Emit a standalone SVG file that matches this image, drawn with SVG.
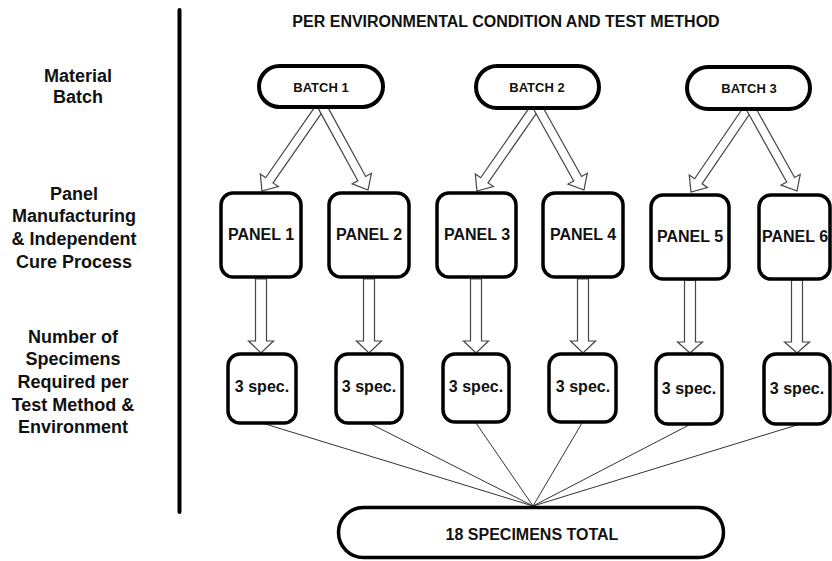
<svg xmlns="http://www.w3.org/2000/svg" width="832" height="561" viewBox="0 0 832 561">
<style>
text{font-family:"Liberation Sans",Arial,sans-serif;font-weight:bold;fill:#111;text-anchor:middle}
.lbl{font-size:18px}
.title{font-size:16px}
.bt{font-size:13px}
.pt{font-size:16px}
.st{font-size:16px}
.tt{font-size:16px}
.pill{fill:#fff;stroke:#000;stroke-width:4}
.box{fill:#fff;stroke:#000;stroke-width:3.5}
.arr{fill:#fff;stroke:#444;stroke-width:1.2;stroke-linejoin:miter}
.ln{stroke:#333;stroke-width:1;fill:none}
</style>
<rect width="832" height="561" fill="#fff"/>
<g id="axis"><line x1="179.5" y1="10" x2="179.5" y2="512" stroke="#000" stroke-width="4" stroke-linecap="round"/></g>
<g id="title"><text class="title" x="506" y="27">PER ENVIRONMENTAL CONDITION AND TEST METHOD</text></g>
<g id="row-labels">
<text class="lbl" x="78" y="82">Material</text>
<text class="lbl" x="78" y="103">Batch</text>
<text class="lbl" x="74" y="200">Panel</text>
<text class="lbl" x="74" y="222">Manufacturing</text>
<text class="lbl" x="74" y="245">&amp; Independent</text>
<text class="lbl" x="74" y="268">Cure Process</text>
<text class="lbl" x="73" y="343">Number of</text>
<text class="lbl" x="73" y="365">Specimens</text>
<text class="lbl" x="73" y="388">Required per</text>
<text class="lbl" x="73" y="411">Test Method &amp;</text>
<text class="lbl" x="73" y="433">Environment</text>
</g>
<g id="connectors">
<polygon class="arr" transform="translate(321,106) rotate(124.8)" points="0,-4.5 90.5,-4.5 90.5,-11 103.5,0 90.5,11 90.5,4.5 0,4.5"/>
<polygon class="arr" transform="translate(322,106) rotate(61.3)" points="0,-4.5 82.8,-4.5 82.8,-11 95.8,0 82.8,11 82.8,4.5 0,4.5"/>
<polygon class="arr" transform="translate(536,106) rotate(124.8)" points="0,-4.5 90.5,-4.5 90.5,-11 103.5,0 90.5,11 90.5,4.5 0,4.5"/>
<polygon class="arr" transform="translate(537,106) rotate(60.8)" points="0,-4.5 83.3,-4.5 83.3,-11 96.3,0 83.3,11 83.3,4.5 0,4.5"/>
<polygon class="arr" transform="translate(749,107) rotate(124.3)" points="0,-4.5 89.9,-4.5 89.9,-11 102.9,0 89.9,11 89.9,4.5 0,4.5"/>
<polygon class="arr" transform="translate(750,107) rotate(60.8)" points="0,-4.5 83.3,-4.5 83.3,-11 96.3,0 83.3,11 83.3,4.5 0,4.5"/>
<polygon class="arr" transform="translate(261,279) rotate(90)" points="0,-5.5 62,-5.5 62,-12.5 74,0 62,12.5 62,5.5 0,5.5"/>
<polygon class="arr" transform="translate(369,279) rotate(90)" points="0,-5.5 62,-5.5 62,-12.5 74,0 62,12.5 62,5.5 0,5.5"/>
<polygon class="arr" transform="translate(476,279) rotate(90)" points="0,-5.5 62,-5.5 62,-12.5 74,0 62,12.5 62,5.5 0,5.5"/>
<polygon class="arr" transform="translate(583,279) rotate(90)" points="0,-5.5 62,-5.5 62,-12.5 74,0 62,12.5 62,5.5 0,5.5"/>
<polygon class="arr" transform="translate(690,280) rotate(90)" points="0,-5.5 62,-5.5 62,-12.5 73,0 62,12.5 62,5.5 0,5.5"/>
<polygon class="arr" transform="translate(797,280) rotate(90)" points="0,-5.5 62,-5.5 62,-12.5 73,0 62,12.5 62,5.5 0,5.5"/>
<line class="ln" x1="262" y1="423" x2="533" y2="506"/>
<line class="ln" x1="369" y1="423" x2="533" y2="506"/>
<line class="ln" x1="476" y1="423" x2="533" y2="506"/>
<line class="ln" x1="582" y1="423" x2="533" y2="506"/>
<line class="ln" x1="689" y1="425" x2="533" y2="506"/>
<line class="ln" x1="797" y1="425" x2="533" y2="506"/>
</g>
<g id="batch1"><rect class="pill" x="259" y="66" width="124" height="41" rx="20.5"/><text class="bt" x="321" y="92">BATCH 1</text></g>
<g id="batch2"><rect class="pill" x="476" y="66" width="123" height="42" rx="21"/><text class="bt" x="537" y="92">BATCH 2</text></g>
<g id="batch3"><rect class="pill" x="687" y="67" width="123" height="42" rx="21"/><text class="bt" x="749" y="93">BATCH 3</text></g>
<g id="panel1"><rect class="box" x="221" y="193" width="80" height="84" rx="12"/><text class="pt" x="261" y="240">PANEL 1</text></g>
<g id="panel2"><rect class="box" x="329" y="193" width="80" height="84" rx="12"/><text class="pt" x="369" y="240">PANEL 2</text></g>
<g id="panel3"><rect class="box" x="437" y="193" width="79" height="84" rx="12"/><text class="pt" x="477" y="240">PANEL 3</text></g>
<g id="panel4"><rect class="box" x="543" y="193" width="80" height="84" rx="12"/><text class="pt" x="583" y="240">PANEL 4</text></g>
<g id="panel5"><rect class="box" x="651" y="195" width="78" height="84" rx="12"/><text class="pt" x="690" y="242">PANEL 5</text></g>
<g id="panel6"><rect class="box" x="759" y="195" width="71" height="84" rx="12"/><text class="pt" x="795" y="242">PANEL 6</text></g>
<g id="spec1"><rect class="box" x="228" y="354" width="68" height="69" rx="12"/><text class="st" x="262" y="392">3 spec.</text></g>
<g id="spec2"><rect class="box" x="336" y="354" width="66" height="69" rx="12"/><text class="st" x="369" y="392">3 spec.</text></g>
<g id="spec3"><rect class="box" x="443" y="354" width="66" height="68" rx="12"/><text class="st" x="476" y="392">3 spec.</text></g>
<g id="spec4"><rect class="box" x="549" y="354" width="67" height="68" rx="12"/><text class="st" x="583" y="392">3 spec.</text></g>
<g id="spec5"><rect class="box" x="656" y="354" width="66" height="70" rx="12"/><text class="st" x="689" y="394">3 spec.</text></g>
<g id="spec6"><rect class="box" x="764" y="354" width="66" height="70" rx="12"/><text class="st" x="797" y="394">3 spec.</text></g>
<g id="total"><rect class="box" x="338.5" y="507.5" width="385" height="50" rx="25" stroke-width="3"/><text class="tt" x="532" y="540">18 SPECIMENS TOTAL</text></g>
</svg>
